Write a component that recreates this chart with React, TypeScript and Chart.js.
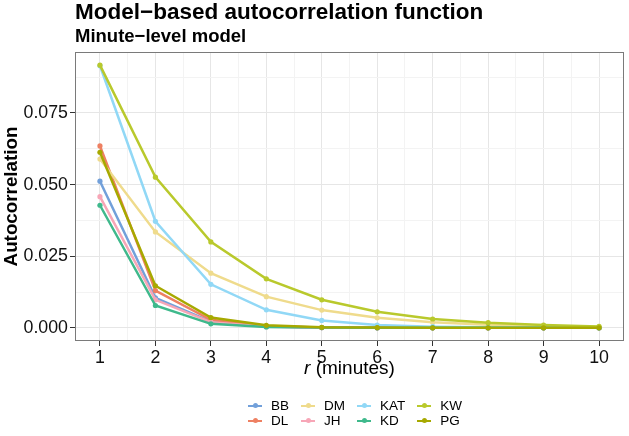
import React, { useEffect, useRef } from 'react';
import Chart from 'chart.js/auto';

// lag in minutes
const lags = [1, 2, 3, 4, 5, 6, 7, 8, 9, 10];

const seriesNames = ['BB', 'DL', 'DM', 'JH', 'KAT', 'KD', 'KW', 'PG'];

const bbValues = [0.0512, 0.0105, 0.0022, 0.0005, 0.0001, 0.00002, 0, 0, 0, 0];
const dlValues = [0.0635, 0.0130, 0.0028, 0.0006, 0.0001, 0.00003, 0, 0, 0, 0];
const dmValues = [0.0589, 0.0335, 0.0191, 0.0109, 0.0062, 0.0035, 0.0020, 0.0011, 0.0006, 0.0003];
const jhValues = [0.0458, 0.0098, 0.0020, 0.0004, 0.0001, 0.00002, 0, 0, 0, 0];
const katValues = [0.0915, 0.0372, 0.0152, 0.0063, 0.0026, 0.0010, 0.0004, 0.0002, 0.0001, 0];
const kdValues = [0.0428, 0.0078, 0.0014, 0.0003, 0.0001, 0.00001, 0, 0, 0, 0];
const kwValues = [0.0917, 0.0526, 0.0300, 0.0171, 0.0098, 0.0056, 0.0031, 0.0018, 0.0010, 0.0005];
const pgValues = [0.0613, 0.0147, 0.0036, 0.0009, 0.0002, 0.0001, 0.00002, 0, 0, 0];

const seriesValues = [bbValues, dlValues, dmValues, jhValues, katValues, kdValues, kwValues, pgValues];

const xTicks = [1, 2, 3, 4, 5, 6, 7, 8, 9, 10];
const yTicks = [0, 0.025, 0.05, 0.075];

const seriesColors = [
  '#72A0DA', // BB
  '#EE8062', // DL
  '#EFDB8C', // DM
  '#F7A6B7', // JH
  '#91D8F6', // KAT
  '#3FB98C', // KD
  '#B9C92C', // KW
  '#A7A900', // PG
];

const FONT = '"Liberation Sans", Arial, Helvetica, sans-serif';

// ggplot-style 5% expansion of the data range
const expand = (lo: number, hi: number) => {
  const pad = (hi - lo) * 0.05;
  return [lo - pad, hi + pad];
};
const [xMin, xMax] = expand(Math.min(...lags), Math.max(...lags));
const allValues = seriesValues.flat();
const [yMin, yMax] = expand(Math.min(...allValues), Math.max(...allValues));

const withMinor = (major: number[], lo: number, hi: number) => {
  const step = major[1] - major[0];
  const minor = major.map((v) => v + step / 2).concat([major[0] - step / 2]);
  return major.concat(minor.filter((v) => v > lo && v < hi)).sort((a, b) => a - b);
};
const isIn = (list: number[], v: number) => list.some((m) => Math.abs(m - v) < 1e-9);

const panelBorder = {
  id: 'panelBorder',
  afterDraw(chart: Chart) {
    const { ctx, chartArea } = chart;
    ctx.save();
    ctx.strokeStyle = '#7a7a7a';
    ctx.lineWidth = 1;
    ctx.strokeRect(chartArea.left + 0.5, chartArea.top + 0.5, chartArea.width - 1, chartArea.height - 1);
    ctx.restore();
  },
};

const AcfChart: React.FC = () => {
  const canvasRef = useRef<HTMLCanvasElement | null>(null);
  const chartRef = useRef<Chart | null>(null);

  useEffect(() => {
    if (!canvasRef.current) return;
    if (chartRef.current) chartRef.current.destroy();

    const gridColor = (major: number[]) => (ctx: any) =>
      ctx.tick && isIn(major, ctx.tick.value) ? '#e6e6e6' : '#f3f3f3';
    const tickColor = (major: number[]) => (ctx: any) =>
      ctx.tick && isIn(major, ctx.tick.value) ? '#333333' : 'rgba(0,0,0,0)';

    chartRef.current = new Chart(canvasRef.current, {
      type: 'line',
      data: {
        datasets: seriesNames.map((name, i) => ({
          label: name,
          data: lags.map((x, j) => ({ x, y: seriesValues[i][j] })),
          borderColor: seriesColors[i],
          backgroundColor: seriesColors[i],
          pointBackgroundColor: seriesColors[i],
          borderWidth: 2.5,
          pointRadius: 2.6,
          pointBorderWidth: 0,
          pointHoverRadius: 0,
          tension: 0,
          fill: false,
          order: seriesNames.length - i,
        })),
      },
      options: {
        responsive: false,
        animation: false,
        events: [],
        layout: { padding: { left: 0, right: 5, top: 0, bottom: 0 } },
        plugins: {
          legend: { display: false },
          tooltip: { enabled: false },
          title: {
            display: true,
            text: 'Model\u2212based autocorrelation function',
            align: 'start',
            fullSize: false,
            color: '#000',
            font: { family: FONT, size: 22.5, weight: 'bold', lineHeight: 1.1 },
            padding: { top: 0, bottom: 0 },
          },
          subtitle: {
            display: true,
            text: 'Minute\u2212level model',
            align: 'start',
            fullSize: false,
            color: '#000',
            font: { family: FONT, size: 18.5, weight: 'bold', lineHeight: 1.2 },
            padding: { top: 0.6, bottom: 4.45 },
          },
        },
        scales: {
          x: {
            type: 'linear',
            min: xMin,
            max: xMax,
            afterBuildTicks: (s: any) => {
              s.ticks = withMinor(xTicks, xMin, xMax).map((v) => ({ value: v }));
            },
            afterFit: (s: any) => {
              s.height = 95;
            },
            ticks: {
              autoSkip: false,
              maxRotation: 0,
              padding: 1,
              color: '#111',
              font: { family: FONT, size: 17.8 },
              callback: (v: any) => (isIn(xTicks, Number(v)) ? String(v) : ''),
            },
            grid: {
              color: gridColor(xTicks),
              lineWidth: 1,
              tickLength: 5,
              tickColor: tickColor(xTicks),
              tickWidth: 1,
            },
            border: { display: false },
          },
          y: {
            type: 'linear',
            min: yMin,
            max: yMax,
            afterBuildTicks: (s: any) => {
              s.ticks = withMinor(yTicks, yMin, yMax).map((v) => ({ value: v }));
            },
            afterFit: (s: any) => {
              s.width = 75;
            },
            ticks: {
              autoSkip: false,
              padding: 2,
              color: '#111',
              font: { family: FONT, size: 17.8 },
              callback: (v: any) => (isIn(yTicks, Number(v)) ? Number(v).toFixed(3) : ''),
            },
            grid: {
              color: gridColor(yTicks),
              lineWidth: 1,
              tickLength: 5,
              tickColor: tickColor(yTicks),
              tickWidth: 1,
            },
            border: { display: false },
            title: {
              display: true,
              text: 'Autocorrelation',
              color: '#000',
              font: { family: FONT, size: 18.8, weight: 'bold' },
              padding: { top: 0.5, bottom: 0 },
            },
          },
        },
      },
      plugins: [panelBorder],
    });

    return () => {
      if (chartRef.current) {
        chartRef.current.destroy();
        chartRef.current = null;
      }
    };
  }, []);

  return (
    <div style={{ position: 'fixed', left: 0, top: 0, width: 629, height: 436, background: '#fff' }}>
      <canvas ref={canvasRef} width={629} height={436} style={{ width: 629, height: 436 }} />
      <div
        style={{
          position: 'absolute',
          left: 75,
          width: 549,
          top: 358,
          textAlign: 'center',
          fontFamily: FONT,
          fontSize: 19,
          lineHeight: '20px',
          color: '#000',
        }}
      >
        <i>r</i> (minutes)
      </div>
      <div
        style={{
          position: 'absolute',
          left: 248,
          top: 398,
          display: 'grid',
          gridTemplateRows: 'repeat(2, 15px)',
          gridAutoFlow: 'column',
          columnGap: 12,
          fontFamily: FONT,
          fontSize: 13.5,
          lineHeight: '15px',
          color: '#000',
        }}
      >
        {seriesNames.map((name, i) => (
          <div key={name} style={{ display: 'flex', alignItems: 'center', height: 15 }}>
            <span style={{ position: 'relative', display: 'inline-block', width: 14, height: 15, marginRight: 9 }}>
              <span
                style={{
                  position: 'absolute',
                  left: 0,
                  top: 6.5,
                  width: 14,
                  height: 2,
                  background: seriesColors[i],
                }}
              />
              <span
                style={{
                  position: 'absolute',
                  left: 4.5,
                  top: 5,
                  width: 5,
                  height: 5,
                  borderRadius: '50%',
                  background: seriesColors[i],
                }}
              />
            </span>
            <span>{name}</span>
          </div>
        ))}
      </div>
    </div>
  );
};

export default function App() {
  return <AcfChart />;
}
